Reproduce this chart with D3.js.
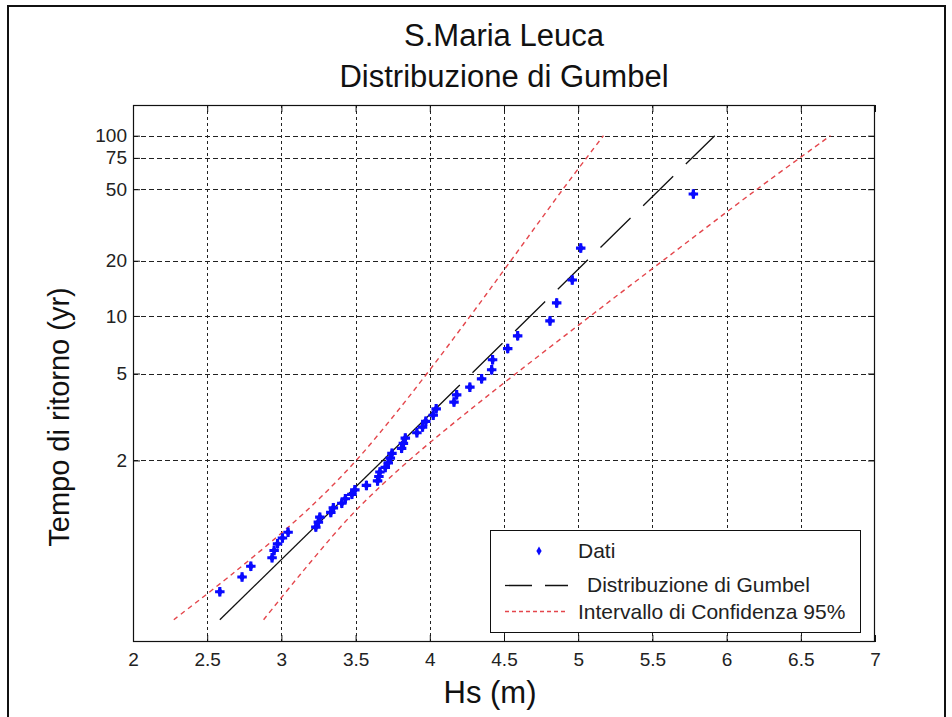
<!DOCTYPE html>
<html>
<head>
<meta charset="utf-8">
<script src="https://cdn.jsdelivr.net/npm/d3@7"></script>
<style>
  body { margin: 0; background: #fff; }
  svg { display: block; font-family: "Liberation Sans", Arial, sans-serif; }
</style>
</head>
<body>
<svg id="chart" width="952" height="717"></svg>
<script>
// Annual maxima of Hs (m), ascending, with their plotting-position return periods (yr)
const hs = [2.585, 2.735, 2.794, 2.937, 2.951, 2.974, 3.007, 3.045, 3.232, 3.249,
  3.259, 3.333, 3.350, 3.407, 3.431, 3.475, 3.495, 3.573, 3.648, 3.657,
  3.664, 3.700, 3.720, 3.734, 3.745, 3.810, 3.822, 3.835, 3.913, 3.951,
  3.973, 4.023, 4.043, 4.163, 4.181, 4.270, 4.349, 4.417, 4.423, 4.525,
  4.592, 4.810, 4.855, 4.960, 5.017, 5.776];
const returnPeriod = [1.022, 1.044, 1.068, 1.093, 1.119, 1.147, 1.175, 1.206, 1.237, 1.270,
  1.306, 1.343, 1.382, 1.424, 1.469, 1.516, 1.567, 1.621, 1.679, 1.741,
  1.808, 1.880, 1.958, 2.043, 2.136, 2.238, 2.350, 2.474, 2.611, 2.765,
  2.938, 3.133, 3.357, 3.615, 3.917, 4.273, 4.700, 5.222, 5.875, 6.714,
  7.833, 9.400, 11.75, 15.67, 23.50, 47.00];

// Fitted Gumbel line (solid low part, dashed above)
const fitHs = [2.585, 4.0, 5.92];
const fitT = [1.004, 3.16, 100];

// 95% confidence band
const ciT = [1.004, 1.05, 1.25, 1.5, 2, 3, 5, 10, 20, 50, 100];
const ciUpper = [2.275, 2.669, 3.062, 3.275, 3.504, 3.738, 3.981, 4.273, 4.546, 4.897, 5.17];
const ciLower = [2.880, 3.130, 3.410, 3.601, 3.860, 4.192, 4.581, 5.083, 5.570, 6.205, 6.70];

const xTicks = [2, 2.5, 3, 3.5, 4, 4.5, 5, 5.5, 6, 6.5, 7];
const yTicks = [2, 5, 10, 20, 50, 75, 100];

const W = 952, H = 717;
const margin = { top: 105, right: 77, bottom: 75, left: 133 };
const RED = '#e4464c';
const BLUE = '#0a0aff';

// Gumbel reduced variate for a return period
const reduced = (T) => -Math.log(-Math.log(1 - 1 / T));

const x = d3.scaleLinear().domain([2, 7]).range([margin.left, W - margin.right]);
const y = d3.scaleLinear().domain([-2, 5]).range([H - margin.bottom, margin.top]);
const yT = (T) => y(reduced(T));

const svg = d3.select('#chart');
const x0 = x.range()[0], x1 = x.range()[1];
const y0 = y.range()[0], y1 = y.range()[1];

// outer window frame
svg.append('path')
  .attr('d', `M8,${H} V6 H945 V${H}`)
  .attr('fill', 'none').attr('stroke', '#111').attr('stroke-width', 2);

// Title
const title = svg.append('g').attr('fill', '#111').attr('font-size', 31).attr('text-anchor', 'middle');
title.append('text').attr('x', (x0 + x1) / 2).attr('y', 46).text('S.Maria Leuca');
title.append('text').attr('x', (x0 + x1) / 2).attr('y', 87).text('Distribuzione di Gumbel');

// Grid
const grid = svg.append('g').attr('stroke', '#222').attr('stroke-width', 1).attr('shape-rendering', 'crispEdges');
grid.selectAll('.hg').data(yTicks).enter().append('line')
  .attr('x1', x0).attr('x2', x1)
  .attr('y1', (d) => Math.round(yT(d)) + 0.5).attr('y2', (d) => Math.round(yT(d)) + 0.5)
  .attr('stroke-dasharray', '5,3');
grid.selectAll('.vg').data(xTicks.slice(1, -1)).enter().append('line')
  .attr('y1', y1).attr('y2', y0)
  .attr('x1', (d) => Math.round(x(d)) + 0.5).attr('x2', (d) => Math.round(x(d)) + 0.5)
  .attr('stroke-dasharray', '3,3');

// Confidence interval
const ciLine = d3.line().curve(d3.curveCatmullRom)
  .x((d) => x(d[0])).y((d) => yT(d[1]));
[ciUpper, ciLower].forEach((band) => {
  svg.append('path')
    .datum(band.map((v, i) => [v, ciT[i]]))
    .attr('d', ciLine)
    .attr('fill', 'none').attr('stroke', RED).attr('stroke-width', 1.4)
    .attr('stroke-dasharray', '5,4');
});

// Gumbel fit
const fitPts = fitHs.map((v, i) => [v, fitT[i]]);
const fitLine = d3.line().x((d) => x(d[0])).y((d) => yT(d[1]));
svg.append('path').datum(fitPts.slice(0, 2)).attr('d', fitLine)
  .attr('fill', 'none').attr('stroke', '#111').attr('stroke-width', 1.3);
svg.append('path').datum(fitPts.slice(1)).attr('d', fitLine)
  .attr('fill', 'none').attr('stroke', '#111').attr('stroke-width', 1.3)
  .attr('stroke-dasharray', '42,17.7');

// Data (blobby asterisk: cross + diamond)
const pts = svg.append('g').attr('fill', BLUE);
const placed = pts.selectAll('g').data(hs).enter().append('g')
  .attr('transform', (d, i) => `translate(${x(d)},${yT(returnPeriod[i])})`);
placed.append('path').attr('d', d3.symbol(d3.symbolCross, 50));
placed.append('path').attr('d', d3.symbol(d3.symbolDiamond, 30));

// Legend
const lg = svg.append('g').attr('font-size', 21).attr('fill', '#222');
lg.append('rect').attr('x', 490.5).attr('y', 530.5).attr('width', 370).attr('height', 102)
  .attr('fill', '#fff').attr('stroke', '#111').attr('stroke-width', 1);
lg.append('path').attr('d', d3.symbol(d3.symbolDiamond, 24))
  .attr('transform', 'translate(539,551)').attr('fill', BLUE);
lg.append('text').attr('x', 578).attr('y', 558).text('Dati');
lg.append('line').attr('x1', 505).attr('x2', 568).attr('y1', 585.5).attr('y2', 585.5)
  .attr('stroke', '#111').attr('stroke-width', 1.3).attr('stroke-dasharray', '27,13');
lg.append('text').attr('x', 587).attr('y', 592).text('Distribuzione di Gumbel');
lg.append('line').attr('x1', 505).attr('x2', 568).attr('y1', 611.5).attr('y2', 611.5)
  .attr('stroke', RED).attr('stroke-width', 1.3).attr('stroke-dasharray', '4,3');
lg.append('text').attr('x', 578).attr('y', 619).text('Intervallo di Confidenza 95%');

// Axes (ticks pointing inward on all four sides)
const styleAxis = (g) => {
  g.attr('font-family', null).attr('font-size', 19);
  g.select('.domain').remove();
  g.selectAll('line').attr('stroke', '#111');
  g.selectAll('text').attr('fill', '#222');
};
svg.append('g').attr('transform', `translate(0,${y0})`)
  .call(d3.axisBottom(x).tickValues(xTicks).tickSizeInner(-7).tickSizeOuter(0).tickPadding(11)
    .tickFormat(d3.format('')))
  .call(styleAxis);
svg.append('g').attr('transform', `translate(0,${y1})`)
  .call(d3.axisTop(x).tickValues(xTicks).tickSizeInner(-7).tickSizeOuter(0).tickFormat(''))
  .call(styleAxis);
svg.append('g').attr('transform', `translate(${x0},0)`)
  .call(d3.axisLeft(y).tickValues(yTicks.map(reduced)).tickSizeInner(-7).tickSizeOuter(0).tickPadding(6)
    .tickFormat((d, i) => yTicks[i]))
  .call(styleAxis);
svg.append('g').attr('transform', `translate(${x1},0)`)
  .call(d3.axisRight(y).tickValues(yTicks.map(reduced)).tickSizeInner(-7).tickSizeOuter(0).tickFormat(''))
  .call(styleAxis);

svg.append('rect').attr('x', x0 + 0.5).attr('y', y1 + 0.5)
  .attr('width', x1 - x0 - 1).attr('height', y0 - y1 - 1)
  .attr('fill', 'none').attr('stroke', '#111').attr('stroke-width', 1.2);

// Axis labels
svg.append('text').attr('x', 490).attr('y', 703)
  .attr('text-anchor', 'middle').attr('font-size', 31).attr('fill', '#111')
  .text('Hs (m)');
svg.append('text').attr('transform', 'translate(69,417) rotate(-90)')
  .attr('text-anchor', 'middle').attr('font-size', 29).attr('fill', '#111')
  .text('Tempo di ritorno (yr)');
</script>
</body>
</html>
